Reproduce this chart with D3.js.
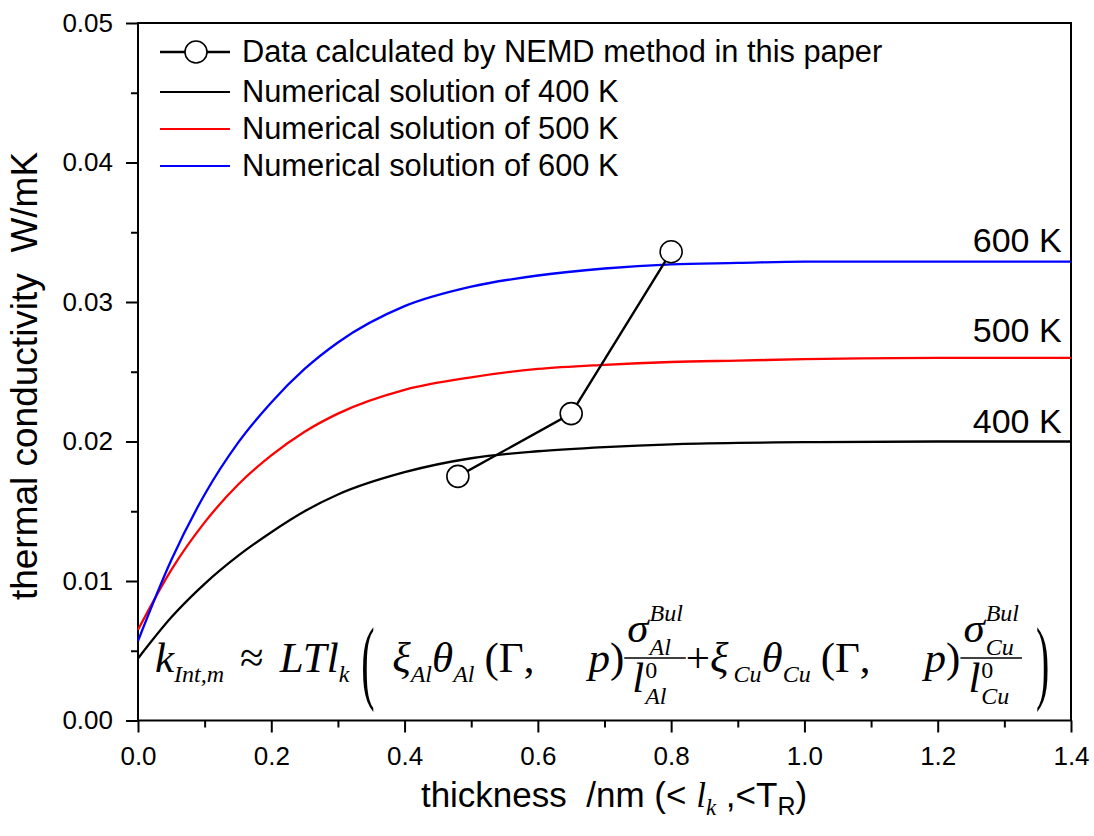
<!DOCTYPE html>
<html>
<head>
<meta charset="utf-8">
<script src="https://cdn.jsdelivr.net/npm/d3@7"></script>
<style>
  body { margin: 0; background: #fff; }
  text { font-family: "Liberation Sans", Arial, sans-serif; white-space: pre; }
  .math { font-family: "Liberation Serif", "Times New Roman", serif; }
</style>
</head>
<body>
<svg id="chart" width="1094" height="836"></svg>
<script>
// thickness (nm) sampled along the numerical curves
const thickness = [0, 0.05, 0.1, 0.15, 0.2, 0.25, 0.3, 0.4, 0.5, 0.6, 0.7, 0.8, 0.9, 1.0, 1.2, 1.4];
const k400 = [0.00445, 0.0074, 0.0098, 0.0118, 0.0135, 0.0150, 0.0162, 0.0178, 0.0188, 0.0193, 0.0196, 0.0198, 0.0199, 0.01995, 0.0200, 0.0200];
const k500 = [0.0065, 0.0108, 0.0142, 0.0169, 0.0190, 0.0207, 0.0220, 0.0237, 0.0246, 0.0252, 0.0255, 0.0257, 0.0258, 0.0259, 0.0260, 0.0260];
const k600 = [0.0057, 0.0115, 0.0162, 0.0199, 0.0228, 0.0252, 0.0271, 0.0297, 0.0311, 0.0319, 0.0324, 0.0327, 0.0328, 0.0329, 0.0329, 0.0329];

// NEMD points
const nemdX = [0.48, 0.65, 0.80];
const nemdY = [0.0175, 0.0220, 0.0336];

const seriesNames = ["Numerical solution of 400 K", "Numerical solution of 500 K", "Numerical solution of 600 K"];
const seriesTags = ["400 K", "500 K", "600 K"];
const seriesColors = ["#000000", "#ff0000", "#0000ff"];
const dataName = "Data calculated by NEMD method in this paper";

const xTicks = [0, 0.2, 0.4, 0.6, 0.8, 1.0, 1.2, 1.4];
const xMinor = [0.1, 0.3, 0.5, 0.7, 0.9, 1.1, 1.3];
const yTicks = [0, 0.01, 0.02, 0.03, 0.04, 0.05];
const yMinor = [0.005, 0.015, 0.025, 0.035, 0.045];

const svg = d3.select("#chart");
const m = { left: 138, right: 1071, top: 23, bottom: 720.5 };

const x = d3.scaleLinear().domain([0, 1.4]).range([m.left, m.right]);
const y = d3.scaleLinear().domain([0, 0.05]).range([m.bottom, m.top]);

// axes
const gx = svg.append("g").attr("transform", `translate(0,${m.bottom})`)
  .call(d3.axisBottom(x).tickValues(xTicks).tickFormat(d3.format(".1f")).tickSize(12).tickSizeOuter(0).tickPadding(14));
const gxm = svg.append("g").attr("transform", `translate(0,${m.bottom})`)
  .call(d3.axisBottom(x).tickValues(xMinor).tickFormat("").tickSize(7).tickSizeOuter(0));
const gy = svg.append("g").attr("transform", `translate(${m.left},0)`)
  .call(d3.axisLeft(y).tickValues(yTicks).tickFormat(d3.format(".2f")).tickSize(12).tickSizeOuter(0).tickPadding(13));
const gym = svg.append("g").attr("transform", `translate(${m.left},0)`)
  .call(d3.axisLeft(y).tickValues(yMinor).tickFormat("").tickSize(7).tickSizeOuter(0));

[gx, gxm, gy, gym].forEach(g => {
  g.selectAll("path.domain").remove();
  g.selectAll("line").attr("stroke", "#000").attr("stroke-width", 2);
  g.selectAll("text").attr("font-size", 26).attr("fill", "#000")
    .attr("font-family", '"Liberation Sans", Arial, sans-serif');
});

// frame
svg.append("rect")
  .attr("x", m.left).attr("y", m.top)
  .attr("width", m.right - m.left).attr("height", m.bottom - m.top)
  .attr("fill", "none").attr("stroke", "#000").attr("stroke-width", 2);

// numerical curves
const line = d3.line().x(d => x(d[0])).y(d => y(d[1])).curve(d3.curveMonotoneX);
[k400, k500, k600].forEach((vals, i) => {
  svg.append("path")
    .datum(thickness.map((t, j) => [t, vals[j]]))
    .attr("fill", "none").attr("stroke", seriesColors[i]).attr("stroke-width", 2.3)
    .attr("d", line);
});

// curve tags
const tagY = [0.0206, 0.0271, 0.0336];
seriesTags.forEach((t, i) => {
  svg.append("text").attr("x", x(1.386)).attr("y", y(tagY[i]))
    .attr("text-anchor", "end").attr("font-size", 34).text(t);
});

// NEMD data
const pts = nemdX.map((v, i) => [v, nemdY[i]]);
svg.append("path").datum(pts)
  .attr("fill", "none").attr("stroke", "#000").attr("stroke-width", 2.4)
  .attr("d", d3.line().x(d => x(d[0])).y(d => y(d[1])));
svg.selectAll("circle.nemd").data(pts).join("circle")
  .attr("class", "nemd")
  .attr("cx", d => x(d[0])).attr("cy", d => y(d[1])).attr("r", 11)
  .attr("fill", "#fff").attr("stroke", "#000").attr("stroke-width", 1.6);

// legend
const legY = [52, 92, 129, 166];
const leg = svg.append("g");
leg.append("line").attr("x1", 160).attr("x2", 230).attr("y1", legY[0]).attr("y2", legY[0])
  .attr("stroke", "#000").attr("stroke-width", 2.4);
leg.append("circle").attr("cx", 196).attr("cy", legY[0]).attr("r", 11)
  .attr("fill", "#fff").attr("stroke", "#000").attr("stroke-width", 1.6);
leg.append("text").attr("x", 242).attr("y", legY[0] + 10).attr("font-size", 30.8).text(dataName);
seriesNames.forEach((n, i) => {
  leg.append("line").attr("x1", 160).attr("x2", 230).attr("y1", legY[i + 1]).attr("y2", legY[i + 1])
    .attr("stroke", seriesColors[i]).attr("stroke-width", 2);
  leg.append("text").attr("x", 242).attr("y", legY[i + 1] + 10).attr("font-size", 30.8).text(n);
});

// axis titles
const xt = svg.append("text").attr("x", 614).attr("y", 807).attr("text-anchor", "middle").attr("font-size", 35);
xt.append("tspan").text("thickness  /nm (< ");
xt.append("tspan").attr("class", "math").attr("font-style", "italic").text("l");
xt.append("tspan").attr("class", "math").attr("font-style", "italic").attr("font-size", 23).attr("dy", 8).text("k");
xt.append("tspan").attr("dy", -8).text(" ,<T");
xt.append("tspan").attr("font-size", 25).attr("dy", 8).text("R");
xt.append("tspan").attr("dy", -8).text(")");

svg.append("text")
  .attr("transform", "translate(37,376) rotate(-90)")
  .attr("text-anchor", "middle").attr("font-size", 37)
  .text("thermal conductivity  W/mK");

// formula
const B = 672, bar = B - 14, fs = 43, ss = 24;
const fg = svg.append("g").attr("class", "math");
let cx = 155;
function put(t, o = {}) {
  const el = fg.append("text").attr("class", "math").attr("x", cx)
    .attr("y", o.y != null ? o.y : B + (o.sub ? 10 : 0))
    .attr("font-size", o.sub || o.small ? ss : fs)
    .attr("font-style", o.it ? "italic" : "normal").text(t);
  return el.node().getComputedTextLength();
}
function frac(num, sup, sub, den, dsup, dsub) {
  const x0 = cx;
  cx = x0 + 3;
  const w1 = put(num, { it: 1, y: bar - 16 });
  cx = x0 + 3 + w1 + 1;
  const a = put(sup, { it: 1, small: 1, y: bar - 37 });
  const b = put(sub, { it: 1, small: 1, y: bar - 3 });
  const nw = w1 + 1 + Math.max(a, b);
  cx = x0 + 8;
  const w2 = put(den, { it: 1, y: bar + 34 });
  cx = x0 + 8 + w2 + 1;
  const c = put(dsup, { small: 1, y: bar + 20 });
  const d = put(dsub, { it: 1, small: 1, y: bar + 46 });
  const w = Math.max(nw + 3, 8 + w2 + 1 + Math.max(c, d)) + 3;
  fg.append("line").attr("x1", x0).attr("x2", x0 + w).attr("y1", bar).attr("y2", bar)
    .attr("stroke", "#000").attr("stroke-width", 1.3);
  cx = x0 + w;
}
function paren(t) {
  fg.append("text").attr("class", "math").attr("transform", `translate(${cx},${B + 20}) scale(1,2.35)`)
    .attr("font-size", 40).text(t);
  cx += 17;
}
const seq = [
  ["k", { it: 1 }], ["Int,m", { it: 1, sub: 1 }], [16], ["≈"], [16], ["LTl", { it: 1 }], ["k", { it: 1, sub: 1 }], [12], ["P("], [14],
  ["ξ", { it: 1 }], ["Al", { it: 1, sub: 1 }], ["θ", { it: 1 }], ["Al", { it: 1, sub: 1 }], [10], ["("], ["Γ"], [","], [54], ["p", { it: 1 }], [")"],
  ["Fσ|Bul|Al|l|0|Al"], ["+"], ["ξ", { it: 1 }], [5], ["Cu", { it: 1, sub: 1 }], ["θ", { it: 1 }], ["Cu", { it: 1, sub: 1 }], [10], ["("], ["Γ"], [","], [54], ["p", { it: 1 }], [")"],
  ["Fσ|Bul|Cu|l|0|Cu"], [14], ["P)"]
];
seq.forEach(s => {
  if (typeof s[0] === "number") { cx += s[0]; return; }
  if (s[0].startsWith("P")) { paren(s[0].slice(1)); return; }
  if (s[0].startsWith("F")) { frac(...s[0].slice(1).split("|")); return; }
  cx += put(s[0], s[1] || {});
});
</script>
</body>
</html>
